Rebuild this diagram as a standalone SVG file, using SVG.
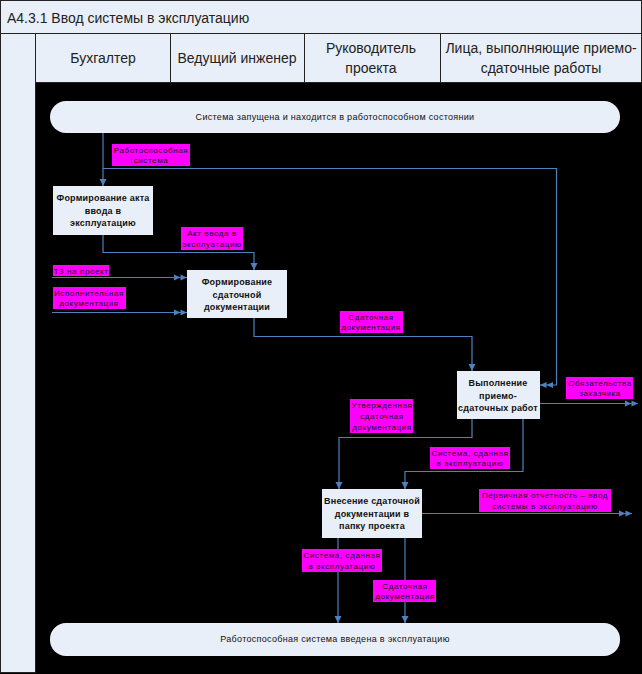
<svg xmlns="http://www.w3.org/2000/svg" width="642" height="674" viewBox="0 0 642 674">
<style>
.cell{fill:#E9EFF8;stroke:#222;stroke-width:1}
.hdr{font-family:"Liberation Sans",Arial,sans-serif;font-size:14px;fill:#222;text-anchor:middle}
.pill{fill:#E9EFF8}
.ptxt{font-family:"Liberation Sans",Arial,sans-serif;font-size:9px;fill:#111;text-anchor:middle;letter-spacing:0.3px}
.box{fill:#E9EFF8}
.btxt{font-family:"Liberation Sans",Arial,sans-serif;font-size:9px;font-weight:bold;fill:#111;text-anchor:middle;letter-spacing:0.2px}
.lbl{fill:#FF00FF}
.ltxt{font-family:"Liberation Sans",Arial,sans-serif;font-size:8px;fill:#111;text-anchor:middle;letter-spacing:0.6px}
.c{fill:none;stroke:#4F81BD;stroke-width:1.2}
</style>
<defs>
<marker id="a1" markerWidth="8" markerHeight="8" refX="7" refY="4" orient="auto" markerUnits="userSpaceOnUse"><path d="M0,0.5 L7,4 L0,7.5 z" fill="#4F81BD"/></marker>
<marker id="a2" markerWidth="13" markerHeight="8" refX="13" refY="4" orient="auto" markerUnits="userSpaceOnUse"><path d="M0,1 L6.5,4 L0,7 z M6.5,1 L13,4 L6.5,7 z" fill="#4F81BD"/></marker>
</defs>
<rect x="0" y="0" width="642" height="674" fill="#000"/>
<g id="frame">
<rect class="cell" x="0.5" y="0.5" width="641" height="33"/>
<text x="7" y="23" font-family="'Liberation Sans',Arial,sans-serif" font-size="14" fill="#222">А4.3.1 Ввод системы в эксплуатацию</text>
<rect class="cell" x="0.5" y="33.5" width="35" height="639"/>
<rect class="cell" x="35.5" y="33.5" width="135" height="49"/>
<rect class="cell" x="170.5" y="33.5" width="134" height="49"/>
<rect class="cell" x="304.5" y="33.5" width="136" height="49"/>
<rect class="cell" x="440.5" y="33.5" width="201" height="49"/>
<text class="hdr" x="103" y="63">Бухгалтер</text>
<text class="hdr" x="237" y="63">Ведущий инженер</text>
<text class="hdr" x="371" y="53">Руководитель</text>
<text class="hdr" x="371" y="73">проекта</text>
<text class="hdr" x="541" y="53">Лица, выполняющие приемо-</text>
<text class="hdr" x="541" y="73">сдаточные работы</text>
</g>
<g id="start">
<rect class="pill" x="50" y="101" width="570" height="32" rx="16"/>
<text class="ptxt" x="335" y="120">Система запущена и находится в работоспособном состоянии</text>
</g>
<g id="end">
<rect class="pill" x="50" y="623" width="570" height="33" rx="16"/>
<text class="ptxt" x="335" y="642">Работоспособная система введена в эксплуатацию</text>
</g>
<g id="connectors">
<path class="c" d="M103,133 V186" marker-end="url(#a1)"/>
<path class="c" d="M103,168.5 H556.5 V385 H540" marker-end="url(#a2)"/>
<path class="c" d="M103,235 V252.5 H254 V270" marker-end="url(#a1)"/>
<path class="c" d="M52,277.5 H187" marker-end="url(#a2)"/>
<path class="c" d="M52,312.5 H187" marker-end="url(#a2)"/>
<path class="c" d="M254,318 V336.5 H472 V371" marker-end="url(#a1)"/>
<path class="c" d="M540,403.5 H638" marker-end="url(#a2)"/>
<path class="c" d="M472,419 V437.5 H339 V489" marker-end="url(#a1)"/>
<path class="c" d="M523,419 V471.5 H405 V489" marker-end="url(#a1)"/>
<path class="c" d="M422,513.5 H632" marker-end="url(#a2)"/>
<path class="c" d="M338,538 V623" marker-end="url(#a1)"/>
<path class="c" d="M405,538 V623" marker-end="url(#a1)"/>
</g>
<g id="labels">
<rect class="lbl" x="112" y="144" width="78" height="22"/>
<text class="ltxt" x="151" y="153">Работоспособная</text>
<text class="ltxt" x="151" y="163">система</text>
<rect class="lbl" x="181" y="227" width="62" height="23"/>
<text class="ltxt" x="212" y="236">Акт ввода в</text>
<text class="ltxt" x="212" y="247">эксплуатацию</text>
<rect class="lbl" x="53" y="265" width="56" height="11"/>
<text class="ltxt" x="81" y="274">ТЗ на проект</text>
<rect class="lbl" x="53" y="287" width="73" height="22"/>
<text class="ltxt" x="89" y="296">Исполнительная</text>
<text class="ltxt" x="89" y="306">документация</text>
<rect class="lbl" x="340" y="311" width="63" height="22"/>
<text class="ltxt" x="371" y="320">Сдаточная</text>
<text class="ltxt" x="371" y="330">документация</text>
<rect class="lbl" x="566" y="377" width="67" height="22"/>
<text class="ltxt" x="600" y="386">Обязательства</text>
<text class="ltxt" x="600" y="396">заказчика</text>
<rect class="lbl" x="350" y="399" width="63" height="34"/>
<text class="ltxt" x="382" y="408">Утвержденная</text>
<text class="ltxt" x="382" y="419">сдаточная</text>
<text class="ltxt" x="382" y="430">документация</text>
<rect class="lbl" x="430" y="447" width="80" height="22"/>
<text class="ltxt" x="470" y="456">Система, сданная</text>
<text class="ltxt" x="470" y="466">в эксплуатацию</text>
<rect class="lbl" x="479" y="489" width="132" height="23"/>
<text class="ltxt" x="545" y="498">Первичная отчетность – ввод</text>
<text class="ltxt" x="545" y="509">системы в эксплуатацию</text>
<rect class="lbl" x="302" y="549" width="80" height="23"/>
<text class="ltxt" x="342" y="558">Система, сданная</text>
<text class="ltxt" x="342" y="569">в эксплуатацию</text>
<rect class="lbl" x="373" y="580" width="63" height="22"/>
<text class="ltxt" x="405" y="589">Сдаточная</text>
<text class="ltxt" x="405" y="599">документация</text>
</g>
<g id="node1">
<rect class="box" x="53" y="186" width="100" height="49"/>
<text class="btxt" x="103" y="201">Формирование акта</text>
<text class="btxt" x="103" y="214">ввода в</text>
<text class="btxt" x="103" y="226">эксплуатацию</text>
</g>
<g id="node2">
<rect class="box" x="187" y="270" width="100" height="48"/>
<text class="btxt" x="237" y="285">Формирование</text>
<text class="btxt" x="237" y="298">сдаточной</text>
<text class="btxt" x="237" y="310">документации</text>
</g>
<g id="node3">
<rect class="box" x="457" y="371" width="83" height="48"/>
<text class="btxt" x="498" y="386">Выполнение</text>
<text class="btxt" x="498" y="399">приемо-</text>
<text class="btxt" x="498" y="411">сдаточных работ</text>
</g>
<g id="node4">
<rect class="box" x="322" y="489" width="100" height="49"/>
<text class="btxt" x="372" y="504">Внесение сдаточной</text>
<text class="btxt" x="372" y="517">документации в</text>
<text class="btxt" x="372" y="529">папку проекта</text>
</g>
</svg>
